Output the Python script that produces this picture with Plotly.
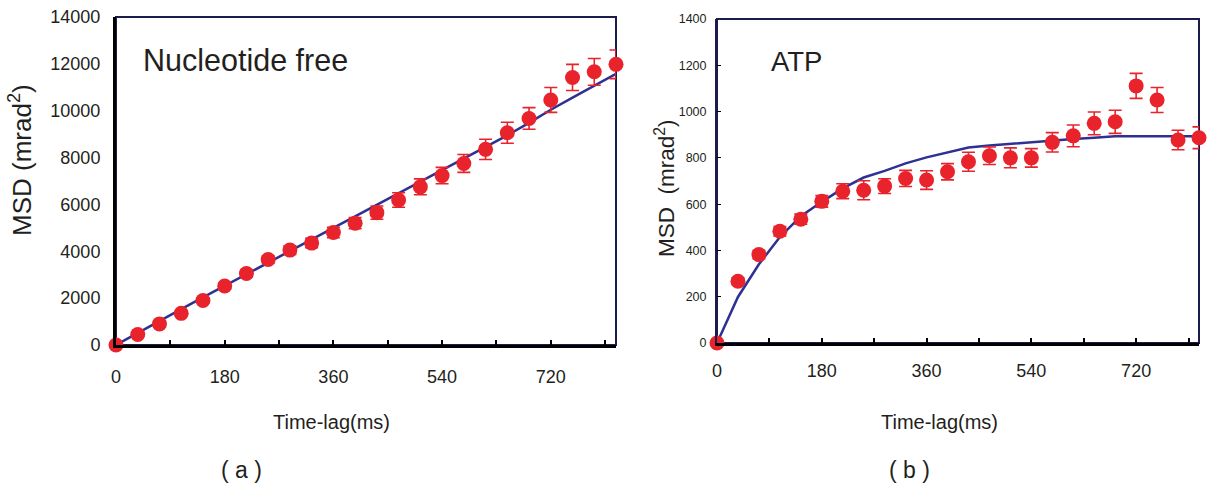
import plotly.graph_objects as go

# ---------------- data ----------------
time_lag = [0, 36, 72, 108, 144, 180, 216, 252, 288, 324, 360, 396,
            432, 468, 504, 540, 576, 612, 648, 684, 720, 756, 792, 828]

free_msd = [0, 450, 900, 1350, 1900, 2520, 3050, 3650, 4050, 4350, 4800, 5200,
            5650, 6190, 6750, 7230, 7750, 8350, 9060, 9670, 10460, 11420, 11660, 11980]
free_err = [0, 60, 80, 100, 110, 130, 150, 160, 180, 200, 220, 240,
            280, 310, 340, 350, 380, 430, 450, 460, 530, 560, 570, 610]
free_fit = [0, 520, 1030, 1530, 2030, 2530, 3030, 3530, 4020, 4510, 5000, 5490,
            5980, 6470, 6960, 7450, 7940, 8440, 8950, 9480, 10040, 10560, 11080, 11570]

atp_msd = [0, 267, 382, 483, 535, 612, 656, 660, 678, 711, 704, 740,
           783, 809, 800, 800, 867, 895, 949, 956, 1111, 1050, 877, 887]
atp_err = [0, 15, 18, 20, 22, 25, 32, 41, 32, 35, 40, 35,
           41, 38, 43, 40, 42, 47, 49, 50, 54, 54, 42, 47]
atp_fit = [0, 199, 340, 458, 548, 610, 668, 715, 744, 776, 802, 822,
           845, 853, 861, 868, 877, 882, 887, 893, 893, 893, 893, 893]

x_tickvals = [0, 180, 360, 540, 720]
x_ticktext = ["0", "180", "360", "540", "720"]
free_yticks = [0, 2000, 4000, 6000, 8000, 10000, 12000, 14000]
free_yticktext = ["0", "2000", "4000", "6000", "8000", "10000", "12000", "14000"]
atp_yticks = [0, 200, 400, 600, 800, 1000, 1200, 1400]
atp_yticktext = ["0", "200", "400", "600", "800", "1000", "1200", "1400"]

# ---------------- style ----------------
RED = "#E8232B"
BLUE = "#2E3192"
NAVY = "#1B1B4D"
FONT = "Liberation Sans, Arial, sans-serif"
TXT = "#231F20"

fig = go.Figure()

# Panel (a)
fig.add_trace(go.Scatter(x=time_lag, y=free_fit, mode="lines",
                         line=dict(color=BLUE, width=2.5),
                         xaxis="x", yaxis="y", showlegend=False, cliponaxis=False))
fig.add_trace(go.Scatter(x=time_lag, y=free_msd, mode="markers",
                         marker=dict(color=RED, size=15),
                         error_y=dict(type="data", array=free_err, color=RED,
                                      thickness=1.6, width=6.5),
                         xaxis="x", yaxis="y", showlegend=False, cliponaxis=False))

# Panel (b)
fig.add_trace(go.Scatter(x=time_lag, y=atp_fit, mode="lines",
                         line=dict(color=BLUE, width=2.5),
                         xaxis="x2", yaxis="y2", showlegend=False, cliponaxis=False))
fig.add_trace(go.Scatter(x=time_lag, y=atp_msd, mode="markers",
                         marker=dict(color=RED, size=15),
                         error_y=dict(type="data", array=atp_err, color=RED,
                                      thickness=1.6, width=6.5),
                         xaxis="x2", yaxis="y2", showlegend=False, cliponaxis=False))

W, H = 1208, 485
def px_x(p):
    return p / W
def px_y(p):
    return 1 - p / H

xa_common = dict(range=[0, 828], tickvals=x_tickvals, ticktext=x_ticktext,
                 ticks="inside", ticklen=5, tickwidth=1.5, tickcolor="black",
                 minor=dict(tick0=0, dtick=90, ticks="inside", ticklen=5,
                            tickwidth=1.5, tickcolor="black"),
                 showline=True, linecolor="black", linewidth=3,
                 showgrid=False, zeroline=False, automargin=False,
                 tickfont=dict(family=FONT, size=18, color=TXT))

fig.update_layout(
    width=W, height=H,
    margin=dict(l=0, r=0, t=0, b=0, autoexpand=False),
    paper_bgcolor="white", plot_bgcolor="white",
    xaxis=dict(domain=[px_x(116), px_x(616)], anchor="y",
               ticklabelstandoff=13, **xa_common),
    yaxis=dict(domain=[px_y(345), px_y(17)], anchor="x", range=[0, 14000],
               tickvals=free_yticks, ticktext=free_yticktext, ticks="",
               showline=True, linecolor="black", automargin=False,
               linewidth=3, showgrid=False, zeroline=False,
               tickfont=dict(family=FONT, size=18, color=TXT),
               ticklabelstandoff=9),
    xaxis2=dict(domain=[px_x(717), px_x(1199)], anchor="y2",
                ticklabelstandoff=9, **xa_common),
    yaxis2=dict(domain=[px_y(343), px_y(19)], anchor="x2", range=[0, 1400],
                tickvals=atp_yticks, ticktext=atp_yticktext,
                ticks="inside", ticklen=4, tickwidth=1.2, automargin=False,
                tickcolor="black", showline=True, linecolor=NAVY,
                linewidth=2, showgrid=False, zeroline=False,
                tickfont=dict(family=FONT, size=12.5, color=TXT),
                ticklabelstandoff=6),
)

# frames (top and right edges)
for xr, yr in (("x domain", "y domain"), ("x2 domain", "y2 domain")):
    fig.add_shape(type="rect", xref=xr, yref=yr, x0=0, x1=1, y0=0, y1=1,
                  line=dict(color=NAVY, width=2), layer="below")

def ann(text, x, y, size, angle=0):
    fig.add_annotation(text=text, x=px_x(x), y=px_y(y), xref="paper", yref="paper",
                       showarrow=False, textangle=angle, xanchor="center", yanchor="middle",
                       font=dict(family=FONT, size=size, color=TXT))

ann("Nucleotide free", 245, 60, 30.5)
ann("ATP", 796, 62, 27.5)
ann("MSD (mrad<sup>2</sup>)", 21, 160, 26, -90)
ann("MSD  (mrad<sup>2</sup>)", 665, 188, 22.5, -90)
ann("Time-lag(ms)", 331, 422, 20)
ann("Time-lag(ms)", 939, 422, 20)
ann("( a )", 241, 470, 23)
ann("( b )", 909, 470, 23)

fig.write_html("out.html", config={"displayModeBar": False},
               post_script="document.body.style.margin='0';document.body.style.overflow='hidden';")
